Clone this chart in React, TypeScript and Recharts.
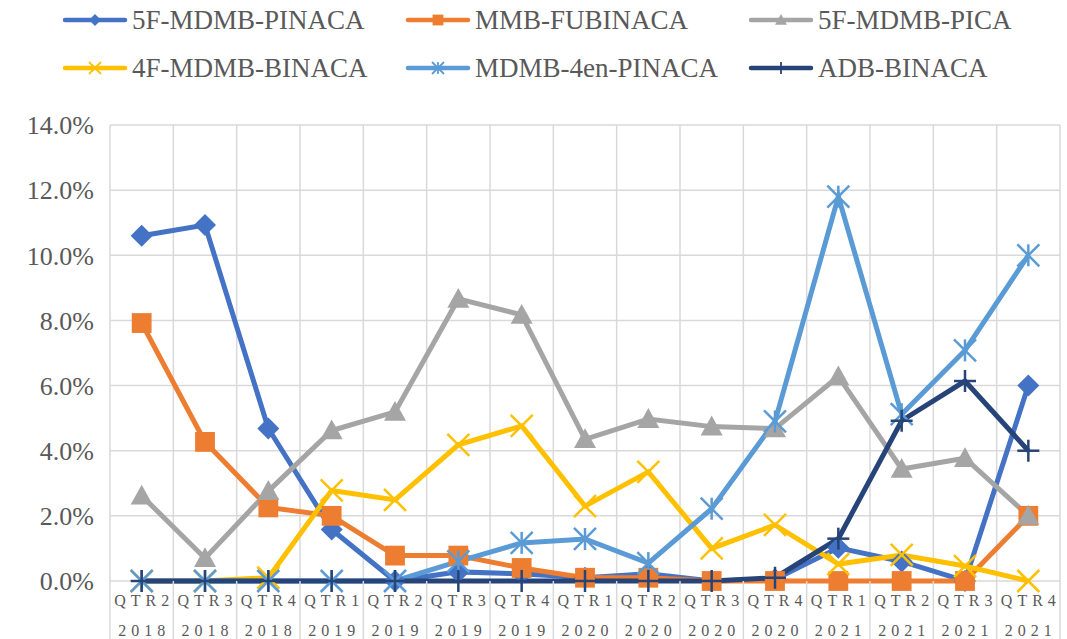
import { CartesianGrid, Line, LineChart, XAxis, YAxis } from "recharts";

const quarters = ["QTR2", "QTR3", "QTR4", "QTR1", "QTR2", "QTR3", "QTR4", "QTR1", "QTR2", "QTR3", "QTR4", "QTR1", "QTR2", "QTR3", "QTR4"];
const years = ["2018", "2018", "2018", "2019", "2019", "2019", "2019", "2020", "2020", "2020", "2020", "2021", "2021", "2021", "2021"];

const pinaca5F = [10.6, 10.93, 4.68, 1.58, 0, 0.28, 0.22, 0.1, 0.22, 0, 0.05, 1.02, 0.6, 0, 6.0];
const fubinaca = [7.92, 4.27, 2.26, 2.0, 0.78, 0.78, 0.4, 0.1, 0.1, 0, 0, 0, 0, 0, 2.0];
const pica5F = [2.62, 0.7, 2.76, 4.62, 5.19, 8.66, 8.17, 4.35, 4.97, 4.74, 4.68, 6.28, 3.44, 3.77, 2.0];
const binaca4F = [0, 0, 0.1, 2.78, 2.49, 4.18, 4.76, 2.3, 3.35, 1.0, 1.72, 0.52, 0.8, 0.46, 0];
const en4Pinaca = [0, 0, 0, 0, 0, 0.6, 1.17, 1.29, 0.55, 2.22, 4.9, 11.8, 5.12, 7.08, 10.0];
const adbBinaca = [0, 0, 0, 0, 0, 0, 0, 0, 0, 0, 0.1, 1.3, 4.92, 6.14, 4.0];

const yTicks = [0, 2, 4, 6, 8, 10, 12, 14];

type Shape = "diamond" | "square" | "triangle" | "x" | "asterisk" | "plus";

const series: { key: string; name: string; color: string; shape: Shape; values: number[] }[] = [
  { key: "a", name: "5F-MDMB-PINACA", color: "#4472C4", shape: "diamond", values: pinaca5F },
  { key: "b", name: "MMB-FUBINACA", color: "#ED7D31", shape: "square", values: fubinaca },
  { key: "c", name: "5F-MDMB-PICA", color: "#A5A5A5", shape: "triangle", values: pica5F },
  { key: "d", name: "4F-MDMB-BINACA", color: "#FFC000", shape: "x", values: binaca4F },
  { key: "e", name: "MDMB-4en-PINACA", color: "#5B9BD5", shape: "asterisk", values: en4Pinaca },
  { key: "f", name: "ADB-BINACA", color: "#264478", shape: "plus", values: adbBinaca },
];

const data = quarters.map((q, i) => {
  const row: Record<string, number | string> = { idx: i, q, year: years[i] };
  series.forEach((s) => (row[s.key] = s.values[i]));
  return row;
});

const W = 1067;
const H = 639;
const LEFT = 110;
const RIGHT = 7;
const TOP = 125;
const BOTTOM = 58;
const STEP = (W - LEFT - RIGHT) / quarters.length;
const FONT = "Liberation Serif, Tinos, DejaVu Serif, Times New Roman, serif";
const TEXT = "#595959";
const GRID = "#D9D9D9";

function Marker({ shape, cx, cy, color, r, sw = 2.5 }: { shape: Shape; cx: number; cy: number; color: string; r: number; sw?: number }) {
  switch (shape) {
    case "diamond":
      return <polygon points={`${cx},${cy - r} ${cx + r},${cy} ${cx},${cy + r} ${cx - r},${cy}`} fill={color} />;
    case "square":
      return <rect x={cx - r * 0.9} y={cy - r * 0.9} width={r * 1.8} height={r * 1.8} fill={color} />;
    case "triangle":
      return <polygon points={`${cx},${cy - r} ${cx + r},${cy + r * 0.8} ${cx - r},${cy + r * 0.8}`} fill={color} />;
    case "x":
      return (
        <g stroke={color} strokeWidth={sw}>
          <line x1={cx - r} y1={cy - r} x2={cx + r} y2={cy + r} />
          <line x1={cx - r} y1={cy + r} x2={cx + r} y2={cy - r} />
        </g>
      );
    case "asterisk":
      return (
        <g stroke={color} strokeWidth={sw}>
          <line x1={cx - r} y1={cy - r} x2={cx + r} y2={cy + r} />
          <line x1={cx - r} y1={cy + r} x2={cx + r} y2={cy - r} />
          <line x1={cx} y1={cy - r} x2={cx} y2={cy + r} />
        </g>
      );
    default:
      return (
        <g stroke={color} strokeWidth={sw}>
          <line x1={cx - r} y1={cy} x2={cx + r} y2={cy} />
          <line x1={cx} y1={cy - r} x2={cx} y2={cy + r} />
        </g>
      );
  }
}

function XTick(props: any) {
  const { x, y, payload } = props;
  const i = payload.value as number;
  const left = x - STEP / 2;
  return (
    <g>
      <line x1={left} y1={y} x2={left} y2={H} stroke={GRID} strokeWidth={1.5} />
      {i === quarters.length - 1 && <line x1={x + STEP / 2} y1={y} x2={x + STEP / 2} y2={H} stroke={GRID} strokeWidth={1.5} />}
      <text x={x + 2.5} y={y + 25} textAnchor="middle" fill={TEXT} fontSize={16} letterSpacing={5} fontFamily={FONT}>
        {quarters[i]}
      </text>
      <text x={x + 2.5} y={y + 55} textAnchor="middle" fill={TEXT} fontSize={16} letterSpacing={5} fontFamily={FONT}>
        {years[i]}
      </text>
    </g>
  );
}

function Legend() {
  const cols = [62, 405, 748];
  return (
    <div style={{ position: "absolute", left: 0, top: 0, width: W, height: 90 }}>
      {series.map((s, i) => {
        const col = i % 3;
        const row = Math.floor(i / 3);
        return (
          <div
            key={s.key}
            style={{ position: "absolute", left: cols[col], top: row === 0 ? 2 : 50, height: 36, display: "flex", alignItems: "center" }}
          >
            <svg width={66} height={20} style={{ marginRight: 4 }}>
              <line x1={3} y1={10} x2={63} y2={10} stroke={s.color} strokeWidth={4.5} strokeLinecap="round" />
              <Marker shape={s.shape} cx={33} cy={10} color={s.color} r={6} sw={1.8} />
            </svg>
            <span style={{ fontFamily: FONT, fontSize: 27, color: TEXT, whiteSpace: "nowrap" }}>{s.name}</span>
          </div>
        );
      })}
    </div>
  );
}

export default function App() {
  const verticals = quarters.map((_, i) => LEFT + i * STEP).concat([W - RIGHT]);
  return (
    <div style={{ position: "absolute", left: 0, top: 0, width: W, height: H, background: "#fff" }}>
      <Legend />
      <LineChart width={W} height={H} data={data} margin={{ top: TOP, right: RIGHT, bottom: 0, left: 0 }}>
        <CartesianGrid stroke={GRID} strokeWidth={1.5} verticalPoints={verticals} />
        <XAxis
          dataKey="idx"
          type="number"
          domain={[-0.5, quarters.length - 0.5]}
          ticks={quarters.map((_, i) => i)}
          interval={0}
          height={BOTTOM}
          tickLine={false}
          axisLine={false}
          tickSize={0}
          tickMargin={0}
          tick={<XTick />}
        />
        <YAxis
          domain={[0, 14]}
          ticks={yTicks}
          width={LEFT}
          tickLine={false}
          axisLine={false}
          tickSize={0}
          tickMargin={16}
          tickFormatter={(v: number) => `${v.toFixed(1)}%`}
          tick={{ fill: TEXT, fontSize: 26, fontFamily: FONT }}
        />
        {series.map((s) => (
          <Line
            key={s.key}
            dataKey={s.key}
            name={s.name}
            stroke={s.color}
            strokeWidth={5}
            isAnimationActive={false}
            dot={(p: any) => <Marker key={`${s.key}-${p.index}`} shape={s.shape} cx={p.cx} cy={p.cy} color={s.color} r={11} />}
            activeDot={false}
          />
        ))}
      </LineChart>
    </div>
  );
}
